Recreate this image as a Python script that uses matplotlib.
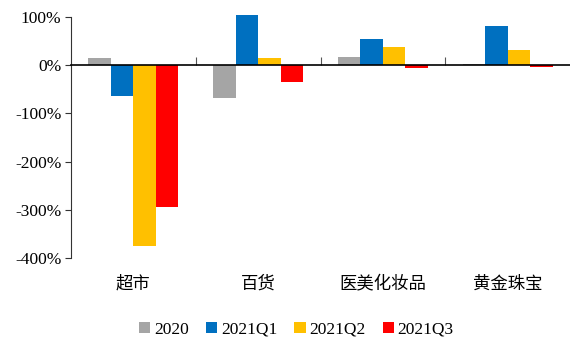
import matplotlib.pyplot as plt
import matplotlib.transforms as mtransforms
from matplotlib.patches import Patch
import numpy as np

plt.rcParams['font.family'] = ['Liberation Serif', 'Noto Sans CJK SC']

categories = ['超市', '百货', '医美化妆品', '黄金珠宝']
series = ['2020', '2021Q1', '2021Q2', '2021Q3']
values = {
    '2020':   [15, -68, 16, 2],
    '2021Q1': [-65, 103, 54, 81],
    '2021Q2': [-374, 15, 38, 31],
    '2021Q3': [-293, -36, -6, -4],
}
colors = ['#A5A5A5', '#0070C0', '#FFC000', '#FF0000']
yticks = [100, 0, -100, -200, -300, -400]

fig = plt.figure(figsize=(5.7, 3.41), dpi=100)
ax = fig.add_axes([0.1246, 0.2425, 0.8754, 0.7085])

x = np.arange(len(categories))
w = 0.18
for i, (s, c) in enumerate(zip(series, colors)):
    ax.bar(x + (i - 1.5) * w, values[s], width=w, color=c, label=s, clip_on=False)

ax.set_xlim(-0.5, len(categories) - 0.5)
ax.set_ylim(-400, 100)
ax.set_yticks(yticks)
ax.set_yticklabels([f'{v}%' for v in yticks], fontsize=12.5)

for side in ['top', 'right']:
    ax.spines[side].set_visible(False)
ax.spines['left'].set_color('#333333')
ax.spines['bottom'].set_position(('data', 0))
ax.spines['bottom'].set_color('black')
ax.spines['bottom'].set_linewidth(1.2)
ax.tick_params(axis='y', direction='out', length=4, color='#333333', pad=3)

# category boundaries as small ticks on the zero line
ax.set_xticks(np.arange(0.5, len(categories) - 0.5))
ax.set_xticklabels([])
ax.tick_params(axis='x', direction='in', length=6, color='#555555')

trans = mtransforms.blended_transform_factory(ax.transData, ax.transAxes)
for xi, name in zip(x, categories):
    ax.text(xi, -0.105, name, transform=trans, ha='center', va='center',
            fontsize=12.5, family=['Noto Sans CJK SC'])

handles = [Patch(facecolor=c, edgecolor='none') for c in colors]
fig.legend(handles, series, loc='center', bbox_to_anchor=(0.52, 0.033),
           ncol=4, frameon=False, fontsize=12.5, handlelength=0.65,
           handleheight=0.65, handletextpad=0.2, columnspacing=1.0)

fig.savefig('out.png', dpi=100)
